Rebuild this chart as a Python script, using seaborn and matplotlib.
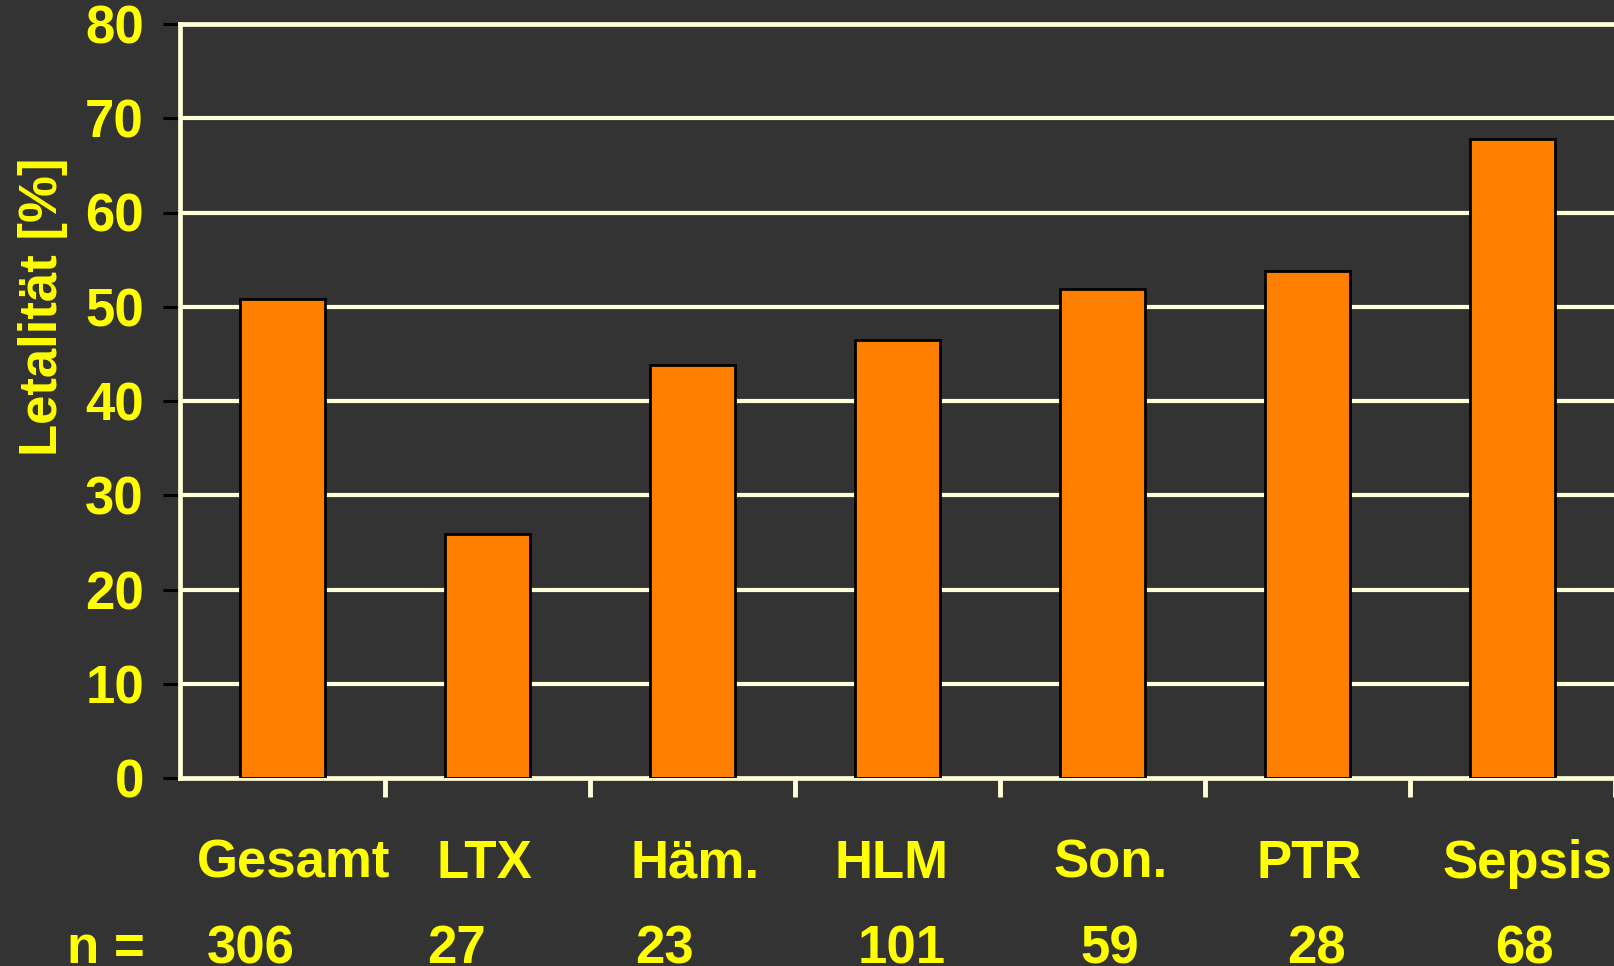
import matplotlib
matplotlib.use("Agg")
import matplotlib.pyplot as plt
import matplotlib.transforms as mtransforms
import seaborn as sns
import numpy as np

# ---- data ----
categories = ["Gesamt", "LTX", "Häm.", "HLM", "Son.", "PTR", "Sepsis"]
letalitaet = [50.8, 25.9, 43.8, 46.5, 51.9, 53.8, 67.8]
n_values = ["306", "27", "23", "101", "59", "28", "68"]
y_ticks = [0, 10, 20, 30, 40, 50, 60, 70, 80]

# small horizontal text offsets (pixels) to mimic the slide's manual spacing
cat_dx = [11, -3, 3, -6, 8, 2, 15]
n_dx = [-32, -31, -28, 4, 7, 9, 12]

BG = "#333333"
CREAM = "#FFFFD8"
YELLOW = "#FFFF00"
ORANGE = "#FF7F00"

sns.set_theme(style="dark")
plt.rcParams["font.family"] = ["Liberation Sans", "DejaVu Sans"]
plt.rcParams["font.weight"] = "bold"

W, H = 1615, 966
fig = plt.figure(figsize=(W / 100, H / 100), dpi=100, facecolor=BG)
ax = fig.add_axes([180 / W, (H - 778) / H, 1435 / W, (778 - 24) / H])
ax.set_facecolor(BG)

sns.barplot(x=categories, y=letalitaet, color=ORANGE, saturation=1,
            edgecolor="black", linewidth=2.0, width=0.415, ax=ax, zorder=3)

ax.set_xlim(-0.5, len(categories) - 0.5)
ax.set_ylim(0, 80)
ax.set_yticks(y_ticks)
ax.set_yticklabels([str(v) for v in y_ticks], color=YELLOW,
                   fontsize=38, fontweight="bold")
ax.tick_params(axis="y", length=12, width=2.2, color="black", pad=14,
               left=True)

# gridlines
ax.grid(False)
for v in y_ticks[1:-1]:
    ax.axhline(v, color=CREAM, linewidth=3.0, zorder=1)

# x axis: no major tick marks / labels, cream minor ticks at category boundaries
ax.set_xticks(range(len(categories)))
ax.set_xticklabels([])
ax.tick_params(axis="x", which="major", length=0, bottom=False)
ax.set_xticks(np.arange(0.5, len(categories), 1.0), minor=True)
ax.tick_params(axis="x", which="minor", length=14, width=3.5, color=CREAM,
               bottom=True, direction="out")
ax.set_xlabel("")
ax.set_ylabel("")

for side in ["left", "bottom", "top"]:
    ax.spines[side].set_visible(True)
    ax.spines[side].set_color(CREAM)
    ax.spines[side].set_linewidth(3.4)
ax.spines["right"].set_visible(False)

# category labels and n values as text rows
for i, (cat, n) in enumerate(zip(categories, n_values)):
    tr = mtransforms.offset_copy(
        mtransforms.blended_transform_factory(ax.transData, fig.transFigure),
        fig=fig, x=cat_dx[i] * 0.72, y=0, units="points")
    ax.text(i, (H - 878) / H, cat, transform=tr, ha="center", va="baseline",
            color=YELLOW, fontsize=38, fontweight="bold", clip_on=False)
    tr2 = mtransforms.offset_copy(
        mtransforms.blended_transform_factory(ax.transData, fig.transFigure),
        fig=fig, x=n_dx[i] * 0.72, y=0, units="points")
    ax.text(i, (H - 963) / H, n, transform=tr2, ha="center", va="baseline",
            color=YELLOW, fontsize=38, fontweight="bold", clip_on=False)

fig.text(106 / W, (H - 963) / H, "n =", ha="center", va="baseline",
         color=YELLOW, fontsize=38, fontweight="bold")

fig.text(43 / W, (H - 307) / H, "Letalität [%]", rotation=90,
         ha="center", va="center", color=YELLOW, fontsize=38,
         fontweight="bold")

fig.savefig("out.png", dpi=100, facecolor=BG)
